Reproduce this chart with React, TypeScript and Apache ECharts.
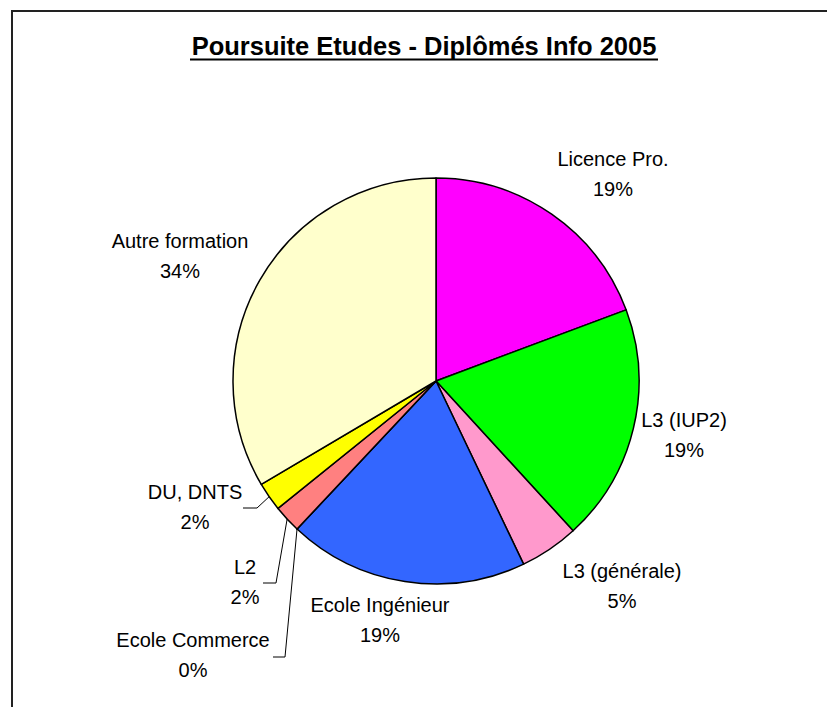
import React, { useEffect, useRef } from "react";
import * as echarts from "echarts";

const titleText = "Poursuite Etudes - Diplômés Info 2005";
const categories = [
  "Licence Pro.",
  "L3 (IUP2)",
  "L3 (générale)",
  "Ecole Ingénieur",
  "Ecole Commerce",
  "L2",
  "DU, DNTS",
  "Autre formation",
];
const shares = [19.3, 18.9, 4.7, 19.1, 0, 2.2, 2.3, 33.5];
const colors = ["#FF00FF", "#00FF00", "#FF99CC", "#3366FF", "#FF6600", "#FF8080", "#FFFF00", "#FFFFCC"];

// layout only: label centres (page px) and leader-line geometry
const labelCentres: [number, number][] = [
  [613, 174],
  [684, 435],
  [622, 586],
  [380, 620],
  [193, 655],
  [245, 582],
  [195, 507],
  [180, 256],
];
const leaders: Record<number, { start: number; elbow: number; y: number }> = {
  4: { start: 273, elbow: 285, y: 657 },
  5: { start: 263, elbow: 276, y: 583 },
  6: { start: 243, elbow: 257, y: 508 },
};

const FONT = "'Liberation Sans', Arial, sans-serif";
const CENTER: [number, number] = [436, 381];
const RADIUS = 203;

export default function App() {
  const ref = useRef<HTMLDivElement>(null);
  useEffect(() => {
    if (!ref.current) return;
    const chart = echarts.init(ref.current, null, { renderer: "svg" });
    const total = shares.reduce((a, b) => a + b, 0);
    const anchorFor = (idx: number): number[] => {
      let start = 0;
      for (let i = 0; i < idx; i++) start += shares[i];
      const mid = ((start + shares[idx] / 2) / total) * Math.PI * 2;
      return [CENTER[0] + RADIUS * Math.sin(mid), CENTER[1] - RADIUS * Math.cos(mid)];
    };
    chart.setOption({
      animation: false,
      backgroundColor: "#ffffff",
      graphic: [
        { type: "line", shape: { x1: 11, y1: 11, x2: 827, y2: 11 }, style: { stroke: "#222", lineWidth: 2 } },
        { type: "line", shape: { x1: 12, y1: 10, x2: 12, y2: 707 }, style: { stroke: "#222", lineWidth: 2 } },
        {
          type: "text",
          x: 424,
          y: 46,
          style: {
            text: titleText,
            font: `bold 25.5px ${FONT}`,
            fill: "#000",
            align: "center",
            verticalAlign: "middle",
          },
        },
        { type: "line", shape: { x1: 190, y1: 59.5, x2: 658, y2: 59.5 }, style: { stroke: "#000", lineWidth: 2 } },
      ],
      series: [
        {
          type: "pie",
          center: CENTER,
          radius: RADIUS,
          startAngle: 90,
          clockwise: true,
          avoidLabelOverlap: false,
          itemStyle: { borderColor: "#000", borderWidth: 1.5 },
          label: {
            show: true,
            position: "outside",
            fontFamily: FONT,
            fontSize: 20,
            lineHeight: 30,
            color: "#000",
            formatter: (p: any) => `${p.name}\n${Math.round(p.percent)}%`,
          },
          labelLine: { show: false },
          emphasis: { disabled: true },
          labelLayout: (p: any) => {
            const i = p.dataIndex;
            const [x, y] = labelCentres[i];
            const res: any = { x, y, align: "center", verticalAlign: "middle" };
            const ld = leaders[i];
            if (ld) {
              const a = p.labelLinePoints && p.labelLinePoints[0] ? p.labelLinePoints[0] : anchorFor(i);
              res.labelLinePoints = [
                [a[0], a[1]],
                [ld.elbow, ld.y],
                [ld.start, ld.y],
              ];
            }
            return res;
          },
          data: categories.map((name, i) => ({
            name,
            value: shares[i],
            itemStyle: { color: colors[i] },
            labelLine: leaders[i]
              ? { show: true, length: 10, length2: 10, lineStyle: { color: "#000", width: 1 } }
              : { show: false },
          })),
        },
      ],
    });
    return () => chart.dispose();
  }, []);
  return (
    <div
      ref={ref}
      style={{ position: "fixed", left: 0, top: 0, width: 827, height: 707, background: "#fff" }}
    />
  );
}
